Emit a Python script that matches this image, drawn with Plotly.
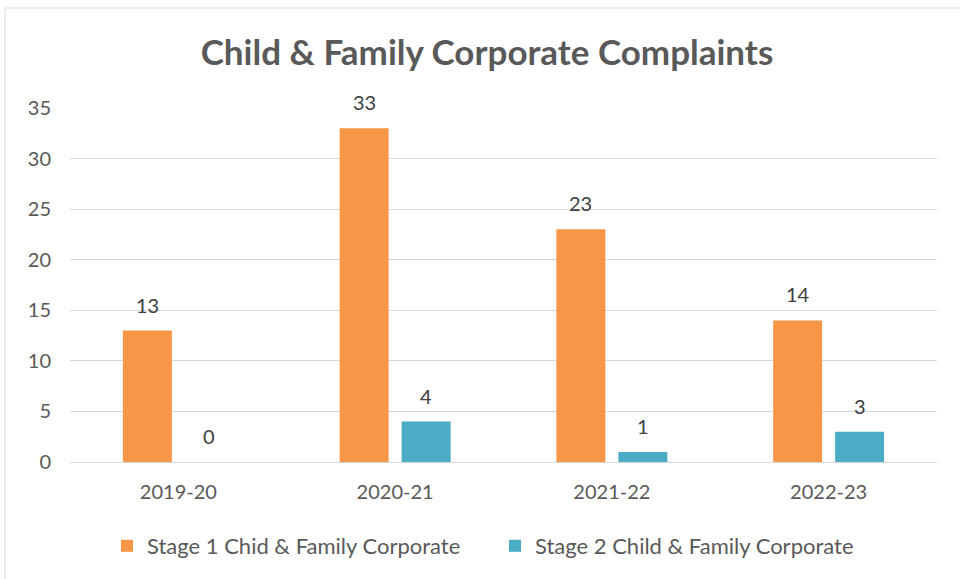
import plotly.graph_objects as go

categories = ["2019-20", "2020-21", "2021-22", "2022-23"]
stage1 = [13, 33, 23, 14]
stage2 = [0, 4, 1, 3]
series_names = ["Stage 1 Chid & Family Corporate", "Stage 2 Child & Family Corporate"]
colors = ["#F79646", "#4BACC6"]

FONT = "Lato"
L, R, T, B = 70, 23, 108, 117
W, H = 960, 579
pw, ph = W - L - R, H - T - B

fig = go.Figure()
for name, vals, col in zip(series_names, [stage1, stage2], colors):
    fig.add_trace(go.Bar(x=categories, y=vals, name=name, marker=dict(color=col, line=dict(width=0))))

# data labels
offsets = [-31, 31]
for vals, dx in zip([stage1, stage2], offsets):
    for c, v in zip(categories, vals):
        fig.add_annotation(x=c, y=v, text=str(v), showarrow=False, xshift=dx, yshift=12,
                           yanchor="bottom", font=dict(family=FONT, size=20, color="#404040"))

fig.update_layout(
    width=W, height=H,
    margin=dict(l=L, r=R, t=T, b=B),
    paper_bgcolor="white", plot_bgcolor="white",
    barmode="group", bargap=0.428, bargroupgap=0.21,
    title=dict(text="<b>Child & Family Corporate Complaints</b>", x=(487 - L) / pw, xref="paper",
               xanchor="center", y=1 - 53 / H, yanchor="middle",
               font=dict(family=FONT, size=35, color="#595959")),
    legend=dict(orientation="h", x=(495 - L) / pw, xanchor="center", y=(462 - 546) / ph, yanchor="middle",
                font=dict(family=FONT, size=22, color="#595959"), itemwidth=30, traceorder="normal",
                entrywidth=343),
    font=dict(family=FONT, color="#595959"),
    showlegend=True,
)
fig.update_yaxes(range=[0, 35], dtick=5, showgrid=True, gridcolor="#D9D9D9", gridwidth=1,
                 zeroline=True, zerolinecolor="#D9D9D9", zerolinewidth=1, showline=False,
                 ticks="", ticklabelstandoff=18, tickfont=dict(family=FONT, size=20, color="#595959"))
fig.update_xaxes(showgrid=False, showline=False, ticks="", ticklabelstandoff=16,
                 tickfont=dict(family=FONT, size=20, color="#595959"))

# chart border
fig.add_shape(type="rect", xref="paper", yref="paper",
              x0=(5 - L) / pw, x1=(975 - L) / pw, y0=(462 - 600) / ph, y1=(462 - 8) / ph,
              line=dict(color="#D9D9D9", width=1), fillcolor="rgba(0,0,0,0)", layer="below")

fig.write_html("out.html", config={"displayModeBar": False},
               post_script="document.body.style.margin='0';")
